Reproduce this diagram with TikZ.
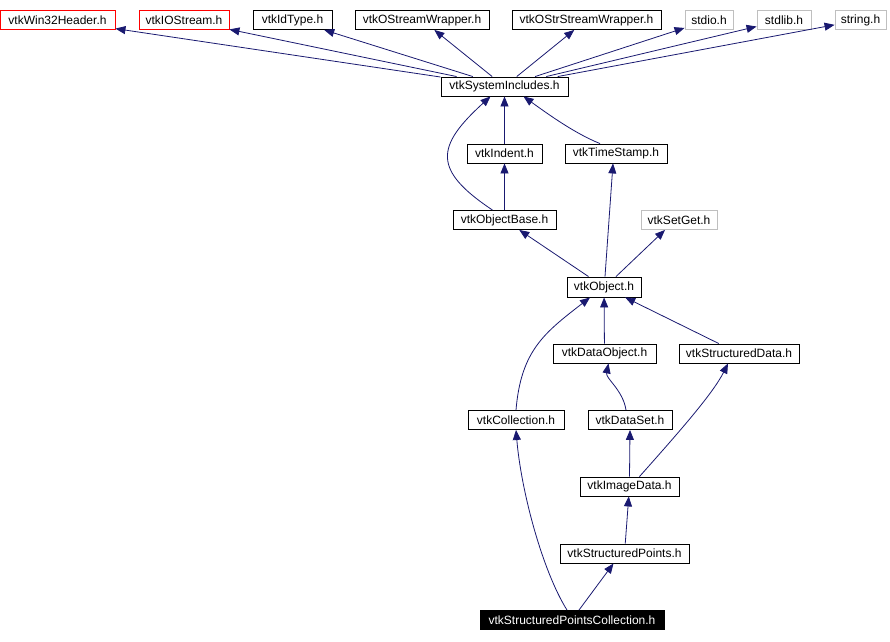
\documentclass[tikz,border=0pt]{standalone}
\usepackage{fontspec}
\setmainfont{Liberation Sans}
\usetikzlibrary{arrows.meta}
\definecolor{edgecol}{HTML}{191970}
\definecolor{graybox}{HTML}{BFBFBF}
\tikzset{
  box/.style={draw=black, line width=0.9bp, inner sep=0pt, minimum height=19bp, font=\fontsize{12bp}{14bp}\selectfont, text=black},
  redbox/.style={box, draw=red},
  greybox/.style={box, draw=graybox},
  selbox/.style={box, fill=black, text=white},
  edge/.style={draw=edgecol, line width=0.8bp, -{Triangle[length=10bp,width=8bp]}},
}
\begin{document}
\begin{tikzpicture}[x=1bp,y=-1bp]
\useasboundingbox (0,0) rectangle (890,642);
% top row
\node[redbox, minimum width=115bp] (win32) at (57.5,20) {vtkWin32Header.h};
\node[redbox, minimum width=90bp] (ios) at (184,20) {vtkIOStream.h};
\node[box, minimum width=79bp] (idtype) at (292.5,20) {vtkIdType.h};
\node[box, minimum width=134bp] (ostream) at (422,20) {vtkOStreamWrapper.h};
\node[box, minimum width=149bp] (ostrstream) at (586.5,20) {vtkOStrStreamWrapper.h};
\node[greybox, minimum width=48bp] (stdio) at (709,20) {stdio.h};
\node[greybox, minimum width=54bp] (stdlib) at (784,20) {stdlib.h};
\node[greybox, minimum width=51bp] (string) at (860.5,20) {string.h};
% middle
\node[box, minimum width=127bp] (sysinc) at (504.5,86.5) {vtkSystemIncludes.h};
\node[box, minimum width=75bp] (indent) at (504.5,153.5) {vtkIndent.h};
\node[box, minimum width=102bp] (timestamp) at (616,153.5) {vtkTimeStamp.h};
\node[box, minimum width=103bp] (objbase) at (504.5,220) {vtkObjectBase.h};
\node[greybox, minimum width=76bp] (setget) at (679,220) {vtkSetGet.h};
\node[box, minimum width=74bp, minimum height=20bp] (object) at (604,287) {vtkObject.h};
\node[box, minimum width=103bp] (dataobj) at (604.5,353.5) {vtkDataObject.h};
\node[box, minimum width=120bp] (sdata) at (739,353.5) {vtkStructuredData.h};
\node[box, minimum width=96bp] (coll) at (516,420) {vtkCollection.h};
\node[box, minimum width=84bp] (dataset) at (630,420) {vtkDataSet.h};
\node[box, minimum width=99bp] (imgdata) at (629.5,486.5) {vtkImageData.h};
\node[box, minimum width=129bp] (spoints) at (624.5,553.5) {vtkStructuredPoints.h};
\node[selbox, minimum width=184bp] (spc) at (572,620) {vtkStructuredPointsCollection.h};
% edges to top row
\draw[edge] (sysinc) -- (win32);
\draw[edge] (sysinc) -- (ios);
\draw[edge] (sysinc) -- (idtype);
\draw[edge] (sysinc) -- (ostream);
\draw[edge] (sysinc) -- (ostrstream);
\draw[edge] (sysinc) -- (stdio);
\draw[edge] (sysinc) -- (stdlib);
\draw[edge] (sysinc) -- (string);
% middle edges
\draw[edge] (indent) -- (sysinc);
\draw[edge] ([xshift=-16bp]timestamp.north) .. controls +(-25,-10) and +(25,18) .. ([xshift=19bp]sysinc.south);
\draw[edge] ([xshift=-12bp]objbase.north) .. controls +(-60,-40) and +(-55,50) .. ([xshift=-14bp]sysinc.south);
\draw[edge] (objbase) -- (indent);
\draw[edge] (object) -- (objbase);
\draw[edge] ([xshift=1bp]object.north) -- ([xshift=-3bp]timestamp.south);
\draw[edge] ([xshift=12bp]object.north) -- ([xshift=-14bp]setget.south);
\draw[edge] (dataobj) -- (object);
\draw[edge] (sdata) -- (object);
\draw[edge] (coll.north) .. controls +(5,-60) and +(-45,35) .. ([xshift=-14bp]object.south);
\draw[edge] ([xshift=-4bp]dataset.north) .. controls +(-3,-20) and +(-3,15) .. ([xshift=4bp]dataobj.south);
\draw[edge] (imgdata.north) -- (dataset.south);
\draw[edge] ([xshift=10bp]imgdata.north) .. controls +(40,-45) and +(-15,30) .. ([xshift=-11bp]sdata.south);
\draw[edge] (spoints) -- (imgdata);
\draw[edge] ([xshift=7bp]spc.north) -- ([xshift=-11bp]spoints.south);
\draw[edge] ([xshift=-5bp]spc.north) .. controls +(-25,-40) and +(5,60) .. (coll.south);
\end{tikzpicture}
\end{document}
